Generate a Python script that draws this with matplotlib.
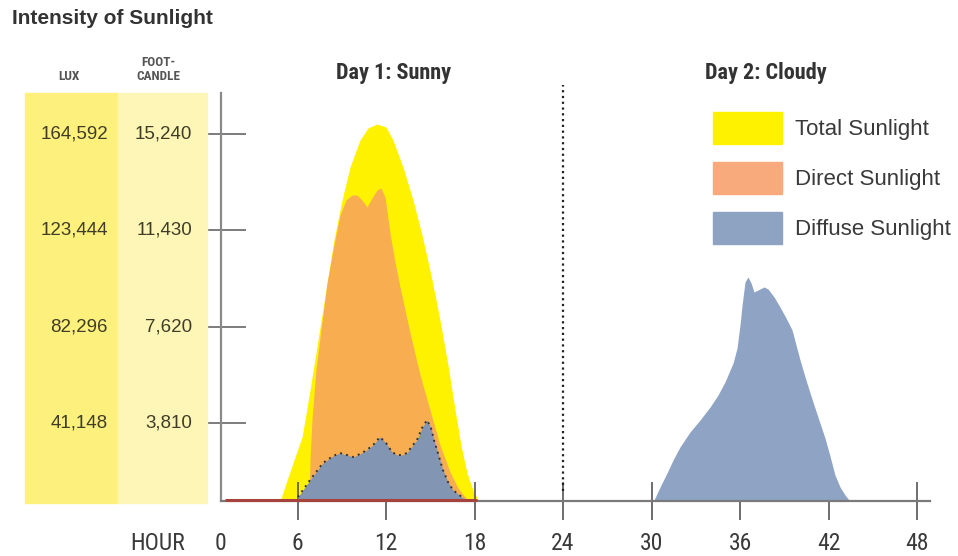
import matplotlib
matplotlib.use("Agg")
import matplotlib.pyplot as plt
from matplotlib import font_manager
from matplotlib.patches import Rectangle
from matplotlib.transforms import blended_transform_factory

# ---- data (hours, foot-candles) ----
total_day1_h = [4.54, 4.95, 5.69, 6.31, 6.85, 7.39, 7.93, 8.47, 9.02, 9.56, 10.24, 10.78,
                11.39, 12.0, 12.47, 13.15, 13.83, 14.44, 15.05, 15.66, 16.2, 16.68, 17.08,
                17.49, 17.9, 18.24, 18.51]
total_day1_fc = [0, 961, 2227, 3255, 5114, 7091, 9069, 11046, 12628, 13934, 15002, 15476,
                 15634, 15516, 15002, 13934, 12628, 11244, 9662, 7882, 6103, 4323, 2939,
                 1831, 1159, 763, 0]

direct_day1_h = [6.64, 6.78, 6.85, 6.98, 7.25, 7.59, 8.0, 8.47, 8.88, 9.29, 9.69, 10.03,
                 10.37, 10.71, 11.05, 11.39, 11.66, 11.93, 12.27, 12.61, 12.95, 13.63,
                 14.31, 14.98, 15.66, 16.34, 16.88, 17.42, 17.69]
direct_day1_fc = [0, 961, 2345, 3927, 5904, 7487, 9346, 10849, 12035, 12628, 12826, 12826,
                  12628, 12351, 12707, 13024, 13103, 12747, 11323, 10176, 9188, 7368,
                  5707, 4323, 2939, 1871, 1238, 842, 0]

diffuse_day1_h = [5.9, 6.03, 6.85, 7.73, 8.41, 8.88, 9.36, 9.76, 10.24, 10.71, 11.19, 11.59,
                  12.0, 12.41, 12.75, 13.08, 13.42, 13.83, 14.1, 14.44, 14.78, 15.05, 15.25,
                  15.46, 15.86, 16.2, 16.54, 17.22, 18.17, 18.37]
diffuse_day1_fc = [0, 880, 1555, 2227, 2503, 2622, 2543, 2464, 2582, 2741, 2978, 3255,
                   3018, 2662, 2543, 2543, 2622, 2939, 3136, 3611, 3927, 3611, 3136,
                   2741, 1950, 1475, 1159, 842, 763, 0]

diffuse_day2_h = [29.97, 30.17, 30.58, 31.05, 31.46, 31.93, 32.61, 33.29, 33.97, 34.51,
                  34.98, 35.53, 35.8, 36.0, 36.14, 36.34, 36.54, 36.75, 36.95, 37.22,
                  37.63, 37.9, 38.31, 38.71, 39.12, 39.53, 39.8, 40.07, 40.41, 40.75,
                  41.08, 41.42, 41.76, 42.1, 42.44, 42.78, 43.12, 43.39, 43.53]
diffuse_day2_fc = [0, 763, 1278, 1831, 2345, 2859, 3452, 3927, 4441, 4916, 5430, 6182,
                   6775, 7685, 8476, 9386, 9583, 9346, 8990, 9069, 9188, 9109, 8793,
                   8397, 7962, 7487, 6894, 6300, 5628, 4995, 4402, 3809, 3216, 2504,
                   1752, 1278, 961, 763, 0]

hour_ticks = [6, 12, 18, 24, 30, 36, 42, 48]
fc_ticks = [3810, 7620, 11430, 15240]
fc_labels = ["3,810", "7,620", "11,430", "15,240"]
lux_labels = ["41,148", "82,296", "123,444", "164,592"]
legend_labels = ["Total Sunlight", "Direct Sunlight", "Diffuse Sunlight"]
day_titles = ["Day 1: Sunny", "Day 2: Cloudy"]

# ---- colours ----
C_TOTAL = "#fff200"
C_DIRECT = "#f8ad50"
C_DIFFUSE1 = "#8295b2"
C_DIFFUSE2 = "#8fa4c4"
C_LEG_DIRECT = "#f8aa7c"
C_LEG_DIFFUSE = "#8ea3c2"
C_TEXT = "#3a3a3a"


def pick(*names):
    avail = {f.name for f in font_manager.fontManager.ttflist}
    for n in names:
        if n in avail:
            return n
    return "DejaVu Sans"


NARROW = pick("Liberation Sans Narrow", "Roboto Condensed", "Open Sans Condensed",
              "Liberation Sans")
SANS = pick("Liberation Sans", "Roboto", "DejaVu Sans")

W, H = 958, 556
fig = plt.figure(figsize=(W / 100, H / 100), dpi=100)

X_LEFT, X_RIGHT, Y_TOP, Y_BOT = 221, 930, 93, 501
ax = fig.add_axes([X_LEFT / W, 1 - Y_BOT / H, (X_RIGHT - X_LEFT) / W, (Y_BOT - Y_TOP) / H])

# px per hour / px per foot-candle scales
PX_H, H0 = 14.75, 209
FC_PX, FC0 = 39.55, 519.3
ax.set_xlim((X_LEFT - H0) / PX_H, (X_RIGHT - H0) / PX_H)
ax.set_ylim((FC0 - Y_BOT) * FC_PX, (FC0 - Y_TOP) * FC_PX)
ybase = ax.get_ylim()[0]

# side panels for the two unit columns
fig.patches.append(Rectangle((25 / W, 1 - 503 / H), 93 / W, 410 / H,
                             transform=fig.transFigure, color="#fdf07c", zorder=0))
fig.patches.append(Rectangle((118 / W, 1 - 503 / H), 89 / W, 410 / H,
                             transform=fig.transFigure, color="#fdf6b6", zorder=0))

# areas
ax.fill_between(total_day1_h, total_day1_fc, 0, color=C_TOTAL, lw=0, zorder=1)
ax.fill_between(direct_day1_h, direct_day1_fc, 0, color=C_DIRECT, lw=0, zorder=2)
ax.fill_between(diffuse_day1_h, diffuse_day1_fc, 0, color=C_DIFFUSE1, lw=0, zorder=3)
ax.plot(diffuse_day1_h[1:-2], diffuse_day1_fc[1:-2], ls=(0, (1, 2.2)), color="#333333",
        lw=1.4, zorder=4)
ax.fill_between(diffuse_day2_h, diffuse_day2_fc, 0, color=C_DIFFUSE2, lw=0, zorder=3)

# night-time baseline
ax.plot([1.08, 18.2], [ybase + 55, ybase + 55], color="#a8423c", lw=2.2, zorder=8,
        solid_capstyle="butt", clip_on=False)

# midnight divider
ax.plot([24, 24], [0.025, 1.02], transform=blended_transform_factory(ax.transData, ax.transAxes),
        ls=(0, (1, 1.6)), color="#222222", lw=1.6, clip_on=False, zorder=6)

# spines and ticks
for s in ("top", "right"):
    ax.spines[s].set_visible(False)
ax.spines["left"].set_color("#8a8a8a")
ax.spines["left"].set_linewidth(1.6)
ax.spines["bottom"].set_color("#7a7a7a")
ax.spines["bottom"].set_linewidth(1.6)
ax.spines["bottom"].set_zorder(7)

ax.set_xticks(hour_ticks)
ax.set_xticklabels([])
ax.tick_params(axis="x", direction="inout", length=27, width=1.2, color="#555555")
ax.set_yticks(fc_ticks)
ax.set_yticklabels([])
ax.tick_params(axis="y", direction="inout", length=36, width=1.2, color="#666666")

# hour labels sit on a common baseline near the bottom edge
LABEL_Y = 1 - 550 / H
tr_x = blended_transform_factory(ax.transData, fig.transFigure)
for h in hour_ticks:
    fig.text(h, LABEL_Y, str(h), transform=tr_x, ha="center", va="baseline",
             fontsize=17, family=NARROW, color=C_TEXT)
fig.text(X_LEFT / W, LABEL_Y, "0", ha="center", va="baseline", fontsize=17,
         family=NARROW, color=C_TEXT)
fig.text(158 / W, LABEL_Y, "HOUR", ha="center", va="baseline", fontsize=17,
         family=NARROW, color=C_TEXT)

# unit columns
tr_y = blended_transform_factory(fig.transFigure, ax.transData)
for v, fc, lx in zip(fc_ticks, fc_labels, lux_labels):
    fig.text(108 / W, v, lx, transform=tr_y, ha="right", va="center", fontsize=13.5,
             family=SANS, color="#3f3d27")
    fig.text(192 / W, v, fc, transform=tr_y, ha="right", va="center", fontsize=13.5,
             family=SANS, color="#3f3d27")

fig.text(69 / W, 1 - 76 / H, "LUX", ha="center", va="center", fontsize=9.5,
         family=NARROW, weight="bold", color="#555555")
fig.text(158 / W, 1 - 69 / H, "FOOT-\nCANDLE", ha="center", va="center", fontsize=9.5,
         family=NARROW, weight="bold", color="#555555", linespacing=1.1)

fig.text(12 / W, 1 - 18 / H, "Intensity of Sunlight", ha="left", va="center",
         fontsize=15, family=SANS, weight="bold", color="#333333")

fig.text(393 / W, 1 - 73 / H, day_titles[0], ha="center", va="center", fontsize=16,
         family=NARROW, weight="bold", color="#333333")
fig.text(766 / W, 1 - 73 / H, day_titles[1], ha="center", va="center", fontsize=16,
         family=NARROW, weight="bold", color="#333333")

# legend
leg_colors = [C_TOTAL, C_LEG_DIRECT, C_LEG_DIFFUSE]
leg_tops = [112, 162, 212]
for top, col, lab in zip(leg_tops, leg_colors, legend_labels):
    fig.patches.append(Rectangle((713 / W, 1 - (top + 32) / H), 69 / W, 32 / H,
                                 transform=fig.transFigure, color=col, zorder=2))
    fig.text(795 / W, 1 - (top + 17) / H, lab, ha="left", va="center", fontsize=16,
             family=SANS, color=C_TEXT)

fig.savefig("out.png", dpi=100)
